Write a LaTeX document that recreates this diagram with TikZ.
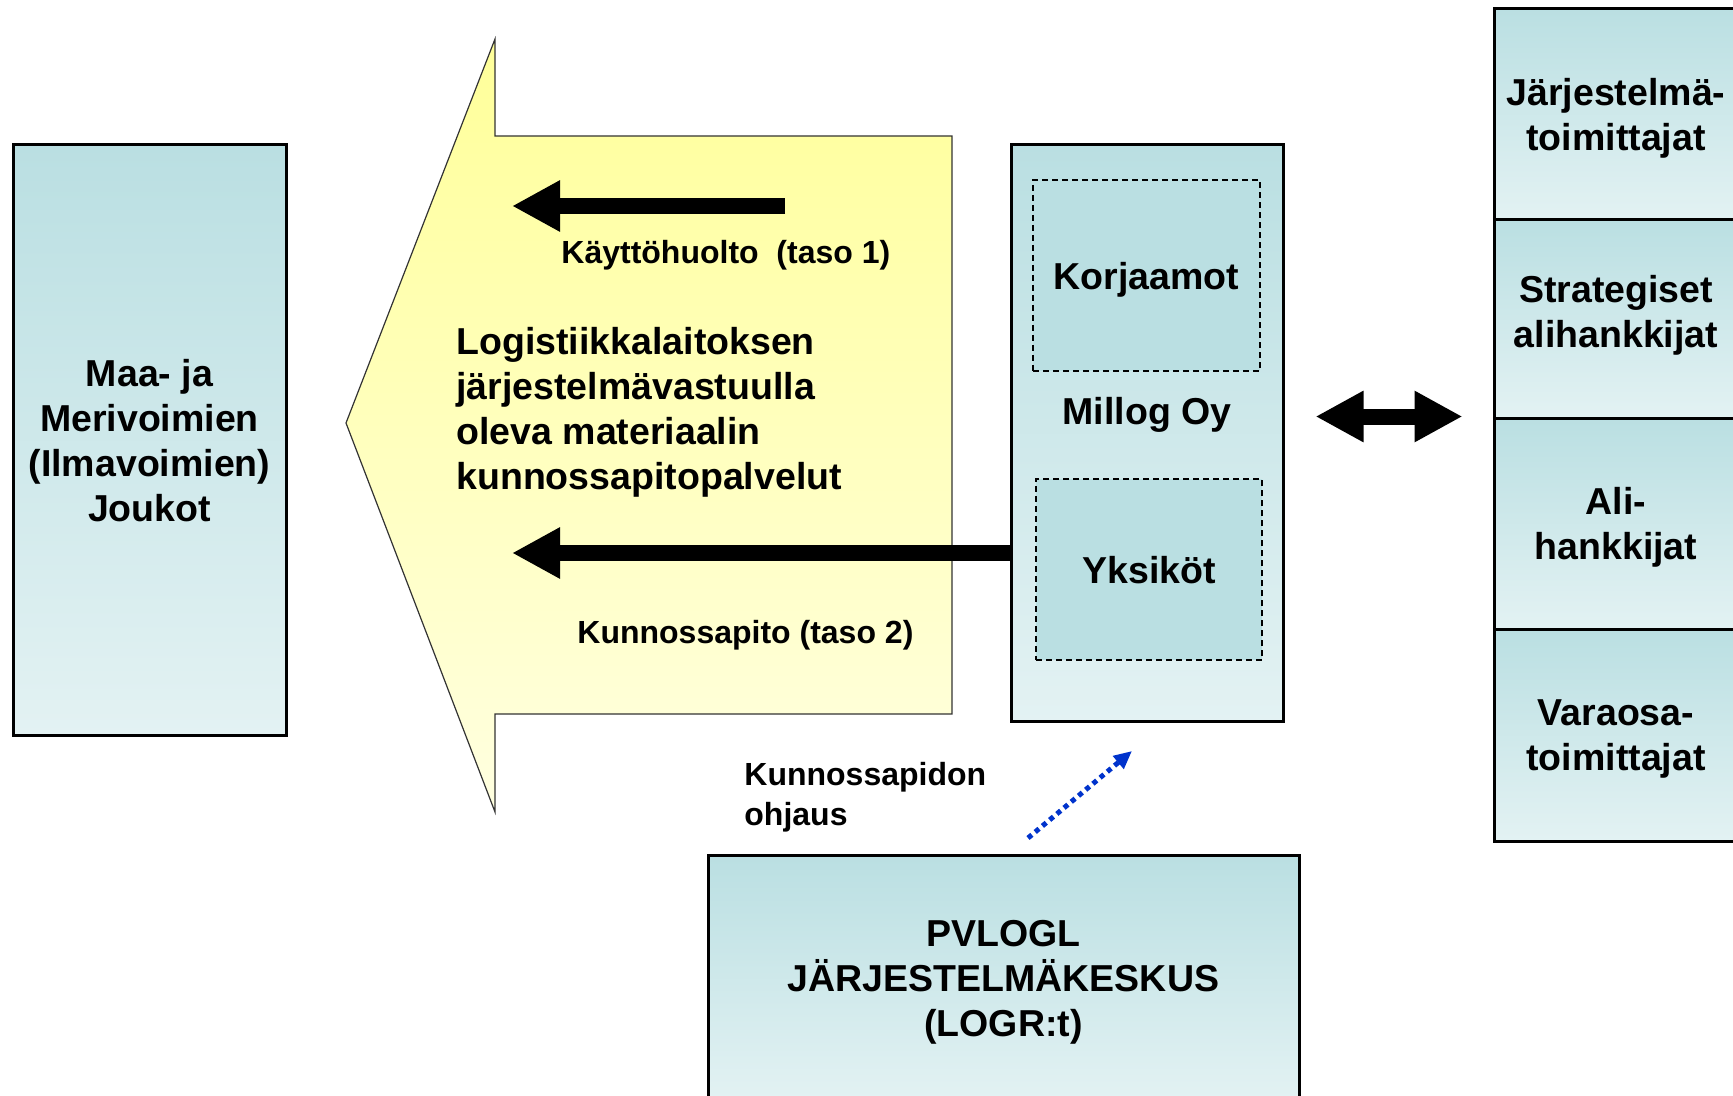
\documentclass[tikz,border=0pt]{standalone}
\usepackage{fontspec}
\setmainfont{Liberation Sans}
\usetikzlibrary{arrows.meta}

\definecolor{tealtop}{HTML}{BADFE2}
\definecolor{tealbot}{HTML}{E3F2F3}
\definecolor{yeltop}{HTML}{FFFF99}
\definecolor{yelbot}{HTML}{FFFFE0}
\definecolor{dotblue}{HTML}{0033CC}
\newcommand\bigtxt{\fontsize{18.75}{22.5}\selectfont\bfseries}
\newcommand\smalltxt{\fontsize{16}{20}\selectfont\bfseries}

\begin{document}
\begin{tikzpicture}[x=0.5pt,y=-0.5pt,
    box/.style={draw,line width=1.5pt,top color=tealtop,bottom color=tealbot,
      inner sep=0pt,text depth=0pt,align=center,font=\bigtxt},
    sub/.style={draw,line width=0.7pt,dash pattern=on 3pt off 2pt,fill=tealtop,
      inner sep=0pt,text depth=0pt,font=\bigtxt},
    txt/.style={inner sep=0pt,text depth=0pt,font=\bigtxt,align=left},
    lbl/.style={inner sep=0pt,text depth=0pt,font=\smalltxt,align=left},
    fat/.style={line width=8pt,-{Triangle[length=24pt,width=24pt]}},
    fatboth/.style={line width=8pt,{Triangle[length=24pt,width=24pt]}-{Triangle[length=24pt,width=24pt]}},
    ctrl/.style={dotblue,line width=2.5pt,dash pattern=on 2.5pt off 2.2pt,
      -{Triangle[length=9pt,width=8pt]}}]
  \useasboundingbox (0,0) rectangle (1733,1096);

  \shade[top color=yeltop,bottom color=yelbot,draw=black!80,line width=0.6pt]
    (346,423) -- (495,39) -- (495,136) -- (952,136) -- (952,714)
    -- (495,714) -- (495,812) -- cycle;

  \node[box,minimum width=136.5pt,minimum height=295pt] (J) at (149.5,440)
    {Maa- ja\\Merivoimien\\(Ilmavoimien)\\Joukot};

  \node[box,minimum width=136pt,minimum height=288pt] (M) at (1147,433) {};
  \node[sub,minimum width=113.5pt,minimum height=95.5pt] (K) at (1146.5,275.5) {Korjaamot};
  \node[sub,minimum width=113pt,minimum height=90.5pt] (Y) at (1149,569.5) {Yksiköt};
  \node[txt] (MO) at (1147,411) {Millog Oy};

  \node[box,minimum width=122pt,minimum height=105.5pt] (S1) at (1616,114.5) {Järjestelmä-\\toimittajat};
  \node[box,text depth=7.5pt,minimum width=122pt,minimum height=99pt] (S2) at (1616,319) {Strategiset\\alihankkijat};
  \node[box,minimum width=122pt,minimum height=105.5pt] (S3) at (1616,523.5) {Ali-\\hankkijat};
  \node[box,minimum width=122pt,minimum height=106pt] (S4) at (1616,735) {Varaosa-\\toimittajat};

  \node[box,minimum width=295.5pt,minimum height=123pt] (P) at (1003.5,978)
    {PVLOGL\\JÄRJESTELMÄKESKUS\\(LOGR:t)};

  \node[txt,anchor=west] (L) at (456,408)
    {Logistiikkalaitoksen\\järjestelmävastuulla\\oleva materiaalin\\kunnossapitopalvelut};
  \node[lbl,anchor=west] (T1L) at (561,252) {Käyttöhuolto~~(taso 1)};
  \node[lbl,anchor=west] (T2L) at (577,632) {Kunnossapito (taso 2)};
  \node[lbl,anchor=west] (OL) at (744,794) {Kunnossapidon\\ohjaus};

  \coordinate (E1) at (785,206);
  \coordinate (T1) at (512,206);
  \coordinate (T2) at (512,553);
  \coordinate (D0) at (1028,838);
  \coordinate (D1) at (1132,751);

  \draw[fat] (E1) -- (T1);
  \draw[fat] (M.west |- T2) -- (T2);
  \draw[fatboth,shorten <=15.5pt,shorten >=15pt] (M.east |- S3.north west) -- (S3.north west);
  \draw[ctrl] (D0) -- (D1);
\end{tikzpicture}
\end{document}
